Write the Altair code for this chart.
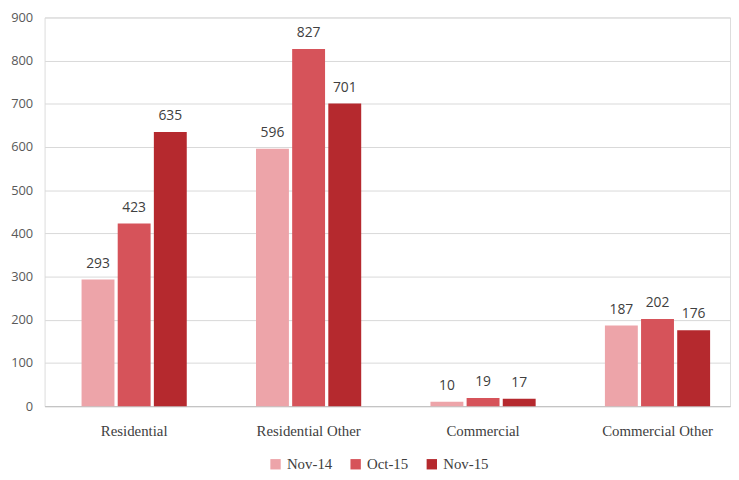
import altair as alt
import pandas as pd

categories = ["Residential", "Residential Other", "Commercial", "Commercial Other"]
series = ["Nov-14", "Oct-15", "Nov-15"]
nov14 = [293, 596, 10, 187]
oct15 = [423, 827, 19, 202]
nov15 = [635, 701, 17, 176]
colors = ["#eda4a9", "#d6535a", "#b5292e"]

rows = []
for i, c in enumerate(categories):
    for s, vals in zip(series, [nov14, oct15, nov15]):
        rows.append({"category": c, "series": s, "value": vals[i]})
df = pd.DataFrame(rows)

x = alt.X("category:N", sort=categories, title=None,
          scale=alt.Scale(paddingInner=0.397, paddingOuter=0.163, align=0.65),
          axis=alt.Axis(labelAngle=0, labelFont="Liberation Serif", labelFontSize=15,
                        labelColor="#404040", ticks=False, domainColor="#bfbfbf",
                        labelPadding=18))
xo = alt.XOffset("series:N", sort=series, scale=alt.Scale(paddingInner=0.09))
y = alt.Y("value:Q", title=None,
          scale=alt.Scale(domain=[0, 900]),
          axis=alt.Axis(values=list(range(0, 1000, 100)), labelFont="Open Sans",
                        labelFontSize=13, labelColor="#595959", domain=False, ticks=False,
                        gridColor="#d9d9d9", labelPadding=12))
color = alt.Color("series:N", sort=series,
                  scale=alt.Scale(domain=series, range=colors),
                  legend=alt.Legend(title=None, orient="none", direction="horizontal",
                                    legendX=226, legendY=444,
                                    symbolType="square", symbolSize=110,
                                    labelFont="Liberation Serif", labelFontSize=15,
                                    labelColor="#404040", columnPadding=16))

bars = alt.Chart(df).mark_bar().encode(x=x, xOffset=xo, y=y, color=color)
labels = alt.Chart(df).mark_text(baseline="bottom", dy=-9, font="Open Sans",
                                 fontSize=14, color="#404040").encode(
    x=x, xOffset=xo, y=y, text="value:Q")

chart = (bars + labels).properties(
    width=693, height=393,
    autosize=alt.AutoSizeParams(type="none"),
    padding={"left": 37, "top": 7, "right": 1, "bottom": 63},
).configure_view(stroke=None).configure(background="white")

chart.save("out.html", embed_options={"renderer": "svg", "actions": False})
